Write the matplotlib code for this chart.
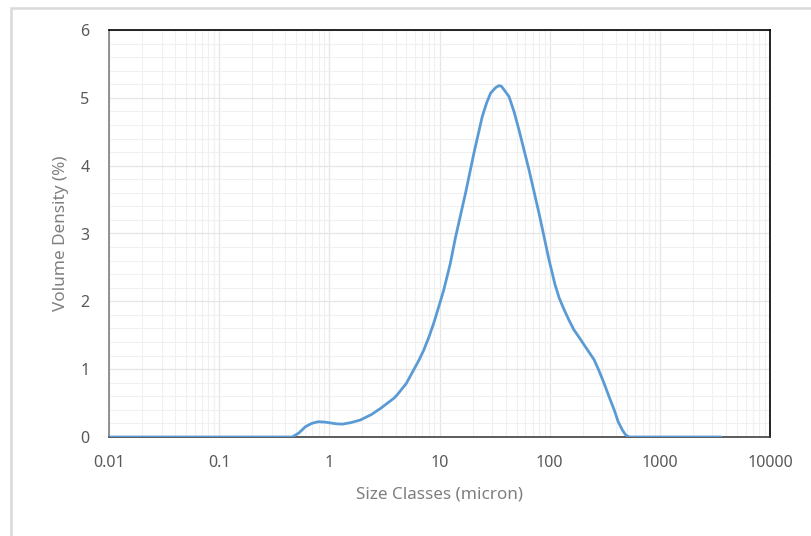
import numpy as np
import matplotlib
matplotlib.use('Agg')
import matplotlib.pyplot as plt
from matplotlib.ticker import FixedLocator, FixedFormatter, LogLocator, MultipleLocator
from matplotlib.patches import Rectangle

plt.rcParams['font.family'] = ['Noto Sans', 'DejaVu Sans']

# particle size (micron) and volume density (%)
size_um = [0.01, 0.1, 0.3, 0.46, 0.53, 0.605, 0.69, 0.79, 0.9, 1.0, 1.15, 1.31,
           1.55, 1.91, 2.4, 2.91, 3.5, 3.85, 4.12, 5.0, 5.83, 6.5, 7.19, 8.0,
           8.87, 9.8, 10.9, 12.5, 14.0, 17.2, 20.5, 24.4, 26.7, 29.1, 32.3, 34.6,
           36.5, 38.5, 42.7, 47.4, 52.6, 64.9, 80.0, 98.7, 111.7, 122.0, 135.0,
           150.0, 166.0, 185.0, 205.0, 228.0, 253.0, 280.0, 312.0, 345.0, 385.0,
           420.0, 458.0, 490.0, 526.0, 1000.0, 3590.0]
volume_pct = [0, 0, 0, 0, 0.06, 0.15, 0.20, 0.225, 0.22, 0.21, 0.195, 0.19,
              0.21, 0.25, 0.33, 0.42, 0.52, 0.57, 0.62, 0.79, 0.99, 1.13, 1.28, 1.47,
              1.68, 1.91, 2.16, 2.55, 2.95, 3.59, 4.18, 4.72, 4.92, 5.07, 5.15, 5.18,
              5.17, 5.12, 5.02, 4.80, 4.53, 3.94, 3.30, 2.61, 2.25, 2.05, 1.88,
              1.72, 1.58, 1.47, 1.36, 1.25, 1.14, 0.98, 0.79, 0.60, 0.40,
              0.22, 0.10, 0.03, 0, 0, 0]

x_ticks = [0.01, 0.1, 1, 10, 100, 1000, 10000]
x_tick_labels = ['0.01', '0.1', '1', '10', '100', '1000', '10000']

fig = plt.figure(figsize=(8.11, 5.36), dpi=100)
fig.patches.append(Rectangle((10.5 / 811, -0.1), 1.2, (536 - 7.5) / 536 + 0.1,
                             transform=fig.transFigure, fill=False,
                             edgecolor='#d9d9d9', linewidth=1.8))
ax = fig.add_axes([109 / 811, (536 - 437) / 536, 661 / 811, 407 / 536])

ax.plot(size_um, volume_pct, color='#5b9bd5', linewidth=2.0, zorder=3,
        solid_joinstyle='round', solid_capstyle='round')

ax.set_xscale('log')
ax.set_xlim(0.01, 10000)
ax.set_ylim(0, 6)
ax.xaxis.set_major_locator(FixedLocator(x_ticks))
ax.xaxis.set_major_formatter(FixedFormatter(x_tick_labels))
ax.xaxis.set_minor_locator(LogLocator(base=10, subs=np.arange(2, 10)))
ax.xaxis.set_minor_formatter(FixedFormatter([]))
ax.yaxis.set_major_locator(MultipleLocator(1))
ax.yaxis.set_minor_locator(MultipleLocator(0.2))

ax.grid(which='major', color='#e6e6e6', linewidth=0.9)
ax.grid(which='minor', color='#f0f0f0', linewidth=0.8)
ax.set_axisbelow(True)

ax.tick_params(which='both', length=0, labelsize=11.5, labelcolor='#595959')
ax.tick_params(axis='x', pad=13)
ax.tick_params(axis='y', pad=14)

ax.spines['top'].set_color('black')
ax.spines['right'].set_color('black')
ax.spines['left'].set_color('#7f7f7f')
ax.spines['bottom'].set_color('#404040')
for s in ax.spines.values():
    s.set_linewidth(1.2)

ax.set_xlabel('Size Classes (micron)', fontsize=12.3, color='#7f7f7f', labelpad=11)
ax.set_ylabel('Volume Density (%)', fontsize=12.3, color='#7f7f7f', labelpad=8)

fig.savefig('out.png', dpi=100)
